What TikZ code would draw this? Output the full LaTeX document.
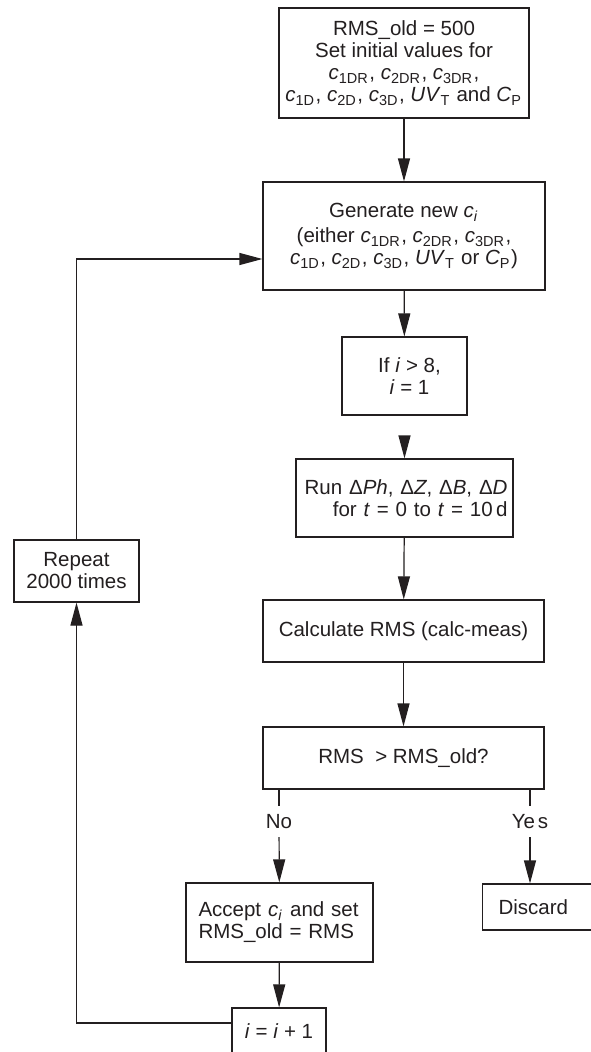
\documentclass[tikz,border=0pt]{standalone}
\usepackage{fontspec}
\setmainfont{Liberation Sans}
\usetikzlibrary{arrows.meta}
\definecolor{ink}{HTML}{231F20}
\newcommand{\msub}[1]{\raisebox{-3.5pt}{\fontsize{14.5}{14.5}\selectfont #1}\kern1.5pt\relax}
\newcommand{\cc}[1]{\textit{c}\msub{#1}}
\begin{document}
\begin{tikzpicture}[x=1pt,y=-1pt,
  every node/.style={font=\fontsize{20.5}{22}\selectfont, text=ink},
  box/.style={draw=ink, line width=1.2pt, rectangle, inner sep=0pt, align=center},
  conn/.style={draw=ink, line width=1.2pt},
  arr/.style={conn, -{Triangle[length=23pt,width=12pt]}}]
\useasboundingbox (0,0) rectangle (590,1052);
\fill[white] (0,0) rectangle (590,1052);

\node[box, minimum width=250pt, minimum height=110pt] (b1) at (404,63)
  {RMS\_old = 500\\Set initial values for\\\cc{1DR}, \cc{2DR}, \cc{3DR},\\\cc{1D}, \cc{2D}, \cc{3D}, \textit{UV}\msub{T} and \textit{C}\msub{P}};
\node[box, minimum width=282pt, minimum height=108pt] (b2) at (404,236)
  {Generate new \textit{c}\msub{\textit{i}}\\[3pt](either \cc{1DR}, \cc{2DR}, \cc{3DR},\\\cc{1D}, \cc{2D}, \cc{3D}, \textit{UV}\msub{T} or \textit{C}\msub{P})};
\node[box, minimum width=125pt, minimum height=78pt] (b3) at (404.5,376)
  {\hspace{10pt}If \textit{i} > 8,\\\hspace{10pt}\textit{i} = 1};
\node[box, minimum width=217pt, minimum height=78pt, text width=206pt, align=right] (b4) at (404.5,498)
  {Run Δ\textit{Ph}, Δ\textit{Z}, Δ\textit{B}, Δ\textit{D}\\for \textit{t} = 0 to \textit{t} = 10\,d};
\node[box, minimum width=281pt, minimum height=62pt] (b5) at (403.5,631)
  {Calculate RMS (calc-meas)};
\node[box, minimum width=281pt, minimum height=62pt] (b6) at (403.5,758)
  {RMS\ \ > RMS\_old?};
\node[inner sep=0pt, minimum height=31pt] (no) at (279,821.5) {No};
\node[inner sep=0pt, minimum height=31pt] (yes) at (530,821.5) {Ye\kern3pt s};
\node[box, minimum width=187pt, minimum height=79pt, text width=162pt, align=left] (b7) at (279.5,922.5)
  {Accept \textit{c}\msub{\textit{i}} and set\\RMS\_old = RMS};
\node[box, minimum height=46pt, text width=86pt, inner xsep=16pt, align=left, anchor=west] (dis) at (482,907)
  {Discard};
\node[box, minimum width=94pt, minimum height=46pt] (b8) at (279,1031)
  {\textit{i} = \textit{i} + 1};
\node[box, minimum width=125pt, minimum height=62pt] (rep) at (76.5,571)
  {Repeat\\2000 times};

\draw[arr] (b1) -- (b2);
\draw[arr] (b2) -- (b3);
\draw[arr, shorten <=21pt] (b3) -- (b4);
\draw[arr] (b4) -- (b5);
\draw[arr] (b5) -- (b6);
\draw[conn] (b6.south -| no) -- (no.north);
\draw[arr] (no) -- (b7);
\draw[conn] (b6.south -| yes) -- (yes.north);
\draw[arr] (yes) -- (yes |- dis.north);
\draw[arr] (b7) -- (b8);
\draw[arr] ([yshift=8pt]b8.west) -| (rep.south);
\draw[arr] (rep.north) |- ([yshift=-23pt]b2.west);
\end{tikzpicture}
\end{document}
